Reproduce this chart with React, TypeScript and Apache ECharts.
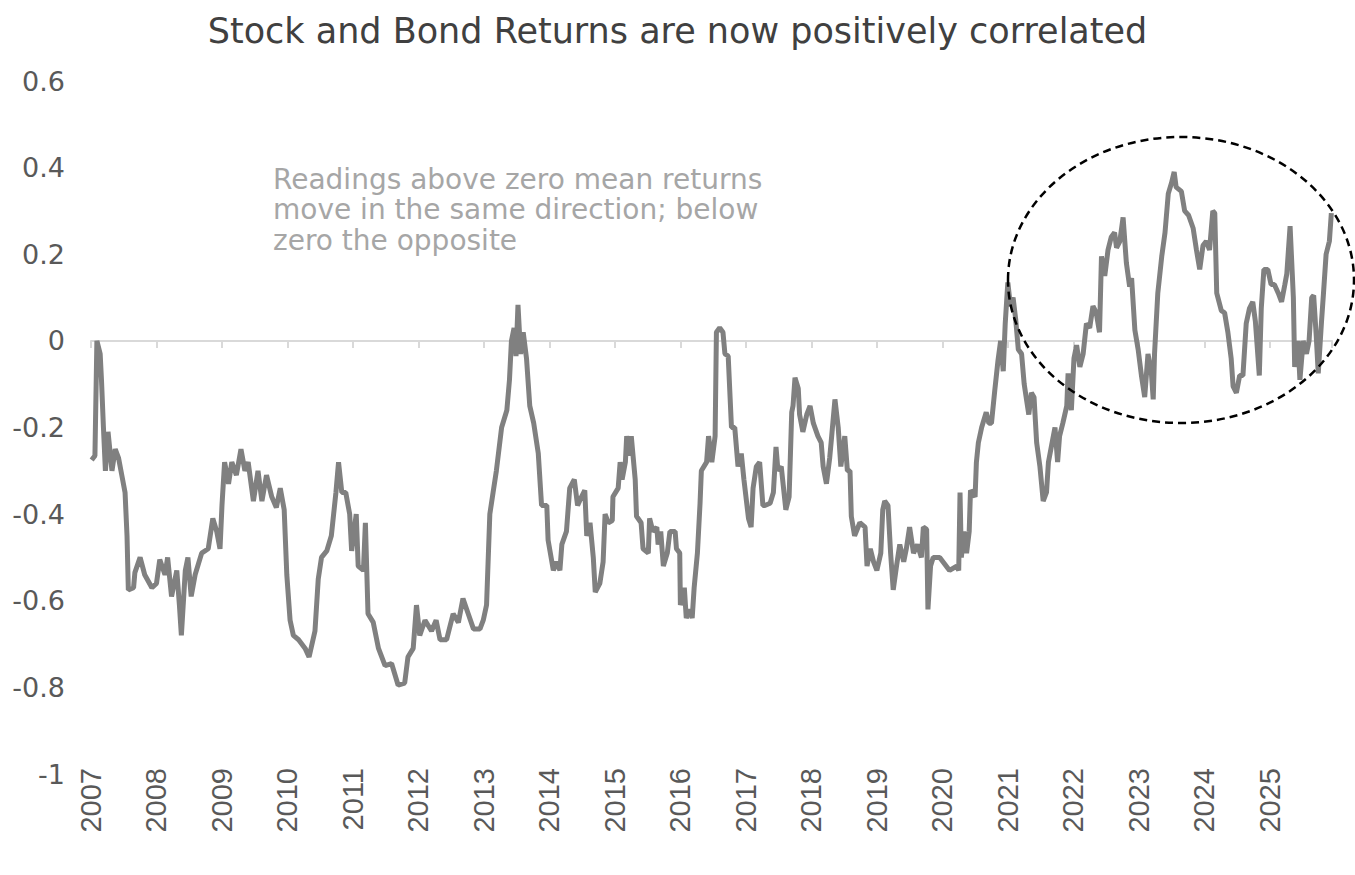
import React, { useEffect, useRef } from "react";
import * as echarts from "echarts";

const TITLE = "Stock and Bond Returns are now positively correlated";
const NOTE_LINES = [
  "Readings above zero mean returns",
  "move in the same direction; below",
  "zero the opposite",
];

const X_MIN = 2007;
const X_MAX = 2025.95;
const Y_MIN = -1;
const Y_MAX = 0.6;

// decimal-year dates of the readings
const dates = [
  2007.01, 2007.06, 2007.09, 2007.14, 2007.16, 2007.19, 2007.22, 2007.26, 2007.32, 2007.37,
  2007.42, 2007.47, 2007.52, 2007.55, 2007.57, 2007.65, 2007.67, 2007.75, 2007.82, 2007.93,
  2008.0, 2008.05, 2008.13, 2008.17, 2008.23, 2008.31, 2008.35, 2008.38, 2008.44, 2008.48,
  2008.53, 2008.59, 2008.69, 2008.79, 2008.86, 2008.92, 2008.97, 2009.0, 2009.04, 2009.1,
  2009.15, 2009.22, 2009.29, 2009.35, 2009.4, 2009.48, 2009.55, 2009.61, 2009.68, 2009.76,
  2009.83, 2009.89, 2009.95, 2009.99, 2010.04, 2010.09, 2010.17, 2010.27, 2010.33, 2010.42,
  2010.47, 2010.52, 2010.6, 2010.67, 2010.74, 2010.78, 2010.83, 2010.89, 2010.95, 2010.98,
  2011.05, 2011.08, 2011.16, 2011.19, 2011.23, 2011.31, 2011.39, 2011.49, 2011.59, 2011.69,
  2011.79, 2011.84, 2011.92, 2011.97, 2012.02, 2012.1, 2012.2, 2012.27, 2012.33, 2012.43,
  2012.53, 2012.61, 2012.68, 2012.76, 2012.84, 2012.94, 2012.99, 2013.04, 2013.09, 2013.14,
  2013.19, 2013.27, 2013.35, 2013.39, 2013.42, 2013.46, 2013.49, 2013.52, 2013.56, 2013.6,
  2013.65, 2013.7, 2013.76, 2013.83, 2013.88, 2013.96, 2013.98, 2014.06, 2014.11, 2014.16,
  2014.19, 2014.26, 2014.31, 2014.38, 2014.43, 2014.49, 2014.54, 2014.57, 2014.62, 2014.67,
  2014.7, 2014.77, 2014.82, 2014.85, 2014.9, 2014.96, 2014.97, 2015.05, 2015.08, 2015.11,
  2015.16, 2015.18, 2015.23, 2015.25, 2015.31, 2015.33, 2015.4, 2015.43, 2015.51, 2015.53,
  2015.58, 2015.64, 2015.66, 2015.7, 2015.74, 2015.8, 2015.84, 2015.92, 2015.94, 2015.99,
  2016.0, 2016.06, 2016.09, 2016.14, 2016.18, 2016.21, 2016.26, 2016.3, 2016.32, 2016.4,
  2016.43, 2016.48, 2016.53, 2016.55, 2016.6, 2016.65, 2016.68, 2016.73, 2016.78, 2016.83,
  2016.88, 2016.93, 2016.97, 2017.04, 2017.08, 2017.11, 2017.16, 2017.21, 2017.26, 2017.29,
  2017.37, 2017.42, 2017.46, 2017.49, 2017.54, 2017.61, 2017.66, 2017.7, 2017.72, 2017.75,
  2017.8, 2017.82, 2017.87, 2017.93, 2017.98, 2018.03, 2018.1, 2018.15, 2018.18, 2018.23,
  2018.28, 2018.31, 2018.36, 2018.41, 2018.45, 2018.51, 2018.55, 2018.59, 2018.61, 2018.66,
  2018.74, 2018.82, 2018.85, 2018.9, 2018.95, 2019.0, 2019.06, 2019.09, 2019.12, 2019.17,
  2019.21, 2019.25, 2019.3, 2019.35, 2019.41, 2019.45, 2019.5, 2019.56, 2019.62, 2019.68,
  2019.71, 2019.76, 2019.78, 2019.82, 2019.86, 2019.96, 2020.11, 2020.22, 2020.25, 2020.27,
  2020.29, 2020.33, 2020.37, 2020.41, 2020.43, 2020.5, 2020.52, 2020.55, 2020.6, 2020.67,
  2020.71, 2020.75, 2020.8, 2020.85, 2020.89, 2020.93, 2020.96, 2021.0, 2021.04, 2021.08,
  2021.12, 2021.16, 2021.21, 2021.25, 2021.29, 2021.32, 2021.36, 2021.4, 2021.44, 2021.49,
  2021.54, 2021.59, 2021.62, 2021.67, 2021.72, 2021.76, 2021.79, 2021.84, 2021.9, 2021.92,
  2021.97, 2022.01, 2022.05, 2022.1, 2022.15, 2022.2, 2022.25, 2022.3, 2022.35, 2022.4,
  2022.43, 2022.48, 2022.53, 2022.58, 2022.63, 2022.66, 2022.71, 2022.76, 2022.81, 2022.86,
  2022.89, 2022.94, 2022.99, 2023.04, 2023.09, 2023.14, 2023.19, 2023.22, 2023.24, 2023.29,
  2023.35, 2023.4, 2023.45, 2023.5, 2023.54, 2023.57, 2023.65, 2023.7, 2023.76, 2023.83,
  2023.88, 2023.93, 2023.98, 2024.03, 2024.08, 2024.13, 2024.16, 2024.19, 2024.26, 2024.31,
  2024.36, 2024.41, 2024.44, 2024.49, 2024.54, 2024.59, 2024.64, 2024.69, 2024.74, 2024.78,
  2024.84, 2024.87, 2024.91, 2024.97, 2025.02, 2025.07, 2025.13, 2025.18, 2025.23, 2025.26,
  2025.31, 2025.36, 2025.38, 2025.43, 2025.46, 2025.51, 2025.56, 2025.6, 2025.64, 2025.67,
  2025.71, 2025.74, 2025.79, 2025.82, 2025.86, 2025.91, 2025.94,
];

// stock-bond return correlation readings
const corr = [
  -0.275, -0.265, 0.0, -0.03, -0.09, -0.2, -0.3, -0.21, -0.3, -0.25,
  -0.27, -0.31, -0.35, -0.45, -0.575, -0.57, -0.535, -0.5, -0.54, -0.57,
  -0.56, -0.505, -0.54, -0.5, -0.59, -0.53, -0.61, -0.68, -0.53, -0.5,
  -0.59, -0.54, -0.49, -0.48, -0.41, -0.44, -0.48, -0.38, -0.28, -0.33,
  -0.28, -0.31, -0.25, -0.3, -0.28, -0.37, -0.3, -0.37, -0.31, -0.36,
  -0.385, -0.34, -0.39, -0.54, -0.645, -0.68, -0.69, -0.71, -0.73, -0.67,
  -0.55, -0.5, -0.485, -0.45, -0.35, -0.28, -0.35, -0.35, -0.4, -0.485,
  -0.4, -0.52, -0.53, -0.42, -0.63, -0.65, -0.71, -0.75, -0.745, -0.795,
  -0.79, -0.73, -0.71, -0.61, -0.68, -0.645, -0.67, -0.645, -0.69, -0.69,
  -0.63, -0.65, -0.595, -0.63, -0.665, -0.665, -0.645, -0.61, -0.4, -0.35,
  -0.3, -0.2, -0.16, -0.09, 0.0, 0.03, -0.035, 0.083, -0.03, 0.02,
  -0.04, -0.15, -0.19, -0.26, -0.38, -0.38, -0.46, -0.53, -0.51, -0.53,
  -0.47, -0.44, -0.34, -0.32, -0.38, -0.36, -0.345, -0.45, -0.42, -0.5,
  -0.58, -0.56, -0.51, -0.4, -0.42, -0.415, -0.36, -0.34, -0.28, -0.32,
  -0.28, -0.22, -0.265, -0.22, -0.32, -0.405, -0.42, -0.48, -0.49, -0.41,
  -0.44, -0.43, -0.47, -0.44, -0.52, -0.49, -0.44, -0.44, -0.48, -0.49,
  -0.61, -0.57, -0.64, -0.62, -0.64, -0.57, -0.49, -0.375, -0.3, -0.28,
  -0.22, -0.28, -0.22, 0.02, 0.03, 0.02, -0.03, -0.035, -0.2, -0.2,
  -0.29, -0.26, -0.32, -0.41, -0.43, -0.34, -0.29, -0.28, -0.38, -0.38,
  -0.375, -0.35, -0.245, -0.3, -0.29, -0.39, -0.36, -0.165, -0.15, -0.085,
  -0.11, -0.17, -0.21, -0.17, -0.15, -0.19, -0.22, -0.235, -0.29, -0.33,
  -0.27, -0.22, -0.135, -0.2, -0.29, -0.22, -0.3, -0.3, -0.405, -0.45,
  -0.42, -0.43, -0.52, -0.48, -0.51, -0.53, -0.49, -0.39, -0.37, -0.38,
  -0.49, -0.575, -0.52, -0.47, -0.51, -0.48, -0.43, -0.49, -0.47, -0.5,
  -0.43, -0.435, -0.62, -0.52, -0.5, -0.5, -0.53, -0.52, -0.53, -0.35,
  -0.5, -0.44, -0.49, -0.44, -0.345, -0.36, -0.28, -0.235, -0.2, -0.165,
  -0.19, -0.19, -0.115, -0.045, 0.0, -0.07, 0.04, 0.135, 0.08, 0.1,
  0.05, -0.02, -0.03, -0.1, -0.14, -0.17, -0.12, -0.13, -0.235, -0.29,
  -0.37, -0.35, -0.28, -0.24, -0.2, -0.28, -0.22, -0.19, -0.15, -0.075,
  -0.16, -0.04, -0.01, -0.06, -0.03, 0.04, 0.03, 0.08, 0.065, 0.02,
  0.195, 0.15, 0.21, 0.24, 0.25, 0.215, 0.23, 0.285, 0.18, 0.125,
  0.145, 0.025, -0.02, -0.08, -0.13, -0.03, -0.07, -0.135, -0.03, 0.11,
  0.195, 0.25, 0.34, 0.365, 0.39, 0.355, 0.345, 0.3, 0.29, 0.26,
  0.21, 0.165, 0.22, 0.23, 0.21, 0.3, 0.295, 0.11, 0.07, 0.065,
  0.02, -0.04, -0.105, -0.12, -0.08, -0.08, 0.04, 0.075, 0.09, 0.045,
  -0.08, 0.075, 0.165, 0.165, 0.13, 0.13, 0.11, 0.09, 0.13, 0.155,
  0.265, 0.1, -0.06, 0.0, -0.09, 0.0, -0.03, 0.0, 0.1, 0.105,
  0.01, -0.075, 0.045, 0.11, 0.2, 0.23, 0.295,
];

const FONT = "'DejaVu Sans', 'Noto Sans', sans-serif";
const NOTE_TOP = 165;
const NOTE_STEP = 30.5;

export default function App() {
  const ref = useRef<HTMLDivElement>(null);

  useEffect(() => {
    if (!ref.current) return;
    const chart = echarts.init(ref.current, undefined, { renderer: "svg" });
    const seriesData = dates.map((d, i) => [d, corr[i]]);
    const isYear = (v: number) => Math.abs(v - Math.round(v)) < 1e-6;

    chart.setOption({
      animation: false,
      backgroundColor: "#ffffff",
      title: {
        text: TITLE,
        left: "center",
        top: 8,
        textStyle: {
          fontFamily: FONT,
          fontSize: 35,
          fontWeight: "normal",
          color: "#404040",
        },
      },
      grid: { left: 91, right: 23, top: 81, bottom: 101, containLabel: false },
      xAxis: [
        {
          type: "value",
          min: X_MIN,
          max: X_MAX,
          interval: 1,
          position: "bottom",
          axisLine: { show: false, onZero: false },
          axisTick: { show: false },
          splitLine: { show: false },
          axisLabel: {
            rotate: 90,
            margin: -6,
            fontFamily: "'Liberation Sans', Arial, sans-serif",
            fontSize: 29,
            color: "#595959",
            showMaxLabel: false,
            formatter: (v: number) => (isYear(v) ? String(Math.round(v)) : ""),
          },
        },
        {
          type: "value",
          min: X_MIN,
          max: X_MAX,
          interval: 1,
          position: "bottom",
          axisLine: { show: true, onZero: true, lineStyle: { color: "#d9d9d9", width: 2 } },
          axisTick: { show: true, inside: false, length: 7, lineStyle: { color: "#d9d9d9", width: 2 } },
          axisLabel: { show: false },
          splitLine: { show: false },
        },
      ],
      yAxis: {
        type: "value",
        min: Y_MIN,
        max: Y_MAX,
        interval: 0.2,
        axisLine: { show: false },
        axisTick: { show: false },
        splitLine: { show: false },
        axisLabel: {
          margin: 26,
          fontFamily: FONT,
          fontSize: 27,
          color: "#595959",
          formatter: (v: number) => String(Math.round(v * 10) / 10),
        },
      },
      series: [
        {
          type: "line",
          xAxisIndex: 0,
          data: seriesData,
          showSymbol: false,
          symbol: "none",
          lineStyle: { color: "#808080", width: 5 },
          z: 3,
        },
      ],
      graphic: [
        ...NOTE_LINES.map((line, i) => ({
          type: "text",
          left: 273,
          top: NOTE_TOP + i * NOTE_STEP,
          style: {
            text: line,
            fontFamily: FONT,
            fontSize: 28,
            fill: "#a6a6a6",
          },
        })),
        {
          type: "ellipse",
          shape: { cx: 1181, cy: 280, rx: 173, ry: 143 },
          style: { fill: "none", stroke: "#000000", lineWidth: 2.5, lineDash: [8, 5] },
          z: 10,
        },
      ],
    });

    return () => chart.dispose();
  }, []);

  return (
    <div
      ref={ref}
      style={{ position: "absolute", left: 0, top: 0, width: 1355, height: 875 }}
    />
  );
}
